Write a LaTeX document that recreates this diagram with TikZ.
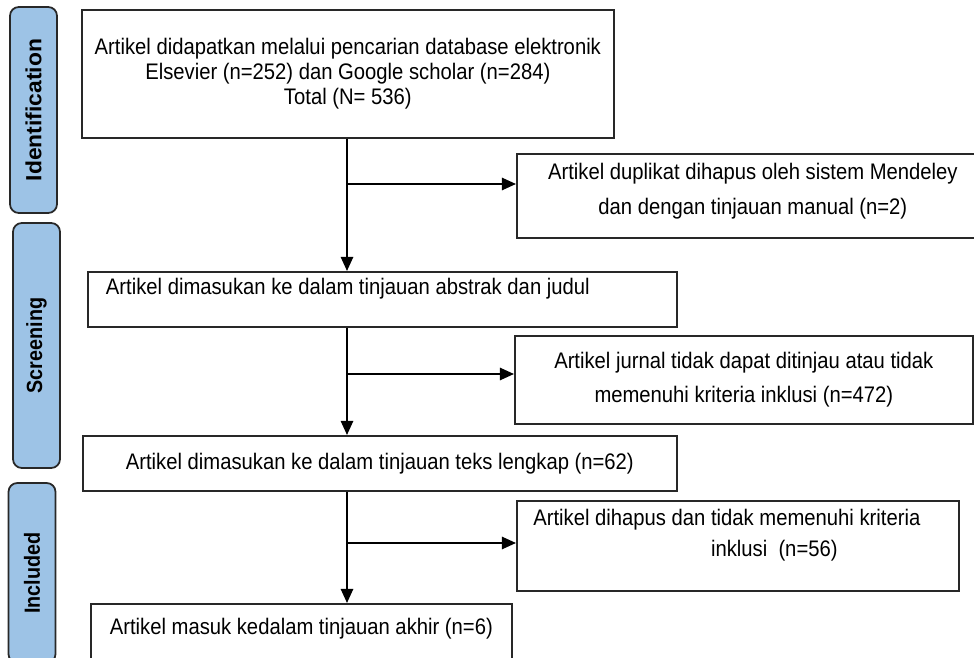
\documentclass[tikz,border=0pt]{standalone}
\usepackage{fontspec}
\setmainfont[FakeStretch=0.9]{Liberation Sans}
\newfontfamily\lebar[FakeStretch=1.04]{Liberation Sans}
\usetikzlibrary{arrows.meta}
\definecolor{biru}{RGB}{157,195,230}
\definecolor{garis}{RGB}{40,40,40}
\tikzset{
  tahap/.style={draw=garis,fill=biru,line width=1pt,rounded corners=5pt,rotate=90,
    inner sep=0pt,minimum height=0.94cm,font=\fontsize{12.5}{14}\selectfont\bfseries},
  kotak/.style={draw=garis,line width=1pt,inner sep=0pt,anchor=north west,
    align=center,font=\fontsize{12.8}{14.2}\selectfont},
  isi/.style={align=center,font=\fontsize{12.8}{14.2}\selectfont},
  isilebar/.style={align=center,font=\fontsize{12.8}{19.6}\selectfont},
  alur/.style={line width=1pt,-{Triangle[length=8pt,width=7pt]}},
}
\begin{document}
\begin{tikzpicture}[x=0.02cm,y=-0.02cm]
  \useasboundingbox (0,0) rectangle (974,658);
  \clip (0,0) rectangle (974,658);
  % tahapan di kiri
  \node[tahap,minimum width=4.12cm,font=\fontsize{12.5}{14}\lebar\bfseries]
    (ident) at (33.5,110) {Identification};
  \node[tahap,minimum width=4.9cm] (screen) at (36.5,345.5) {Screening};
  \node[tahap,minimum width=3.6cm] (incl) at (32,573) {Included};
  % kotak utama
  \node[kotak,minimum width=10.64cm,minimum height=2.56cm] (cari) at (81,9)
    {Artikel didapatkan melalui pencarian database elektronik\\
     Elsevier (n=252) dan Google scholar (n=284)\\ Total (N= 536)};
  \node[kotak,minimum width=11.78cm,minimum height=1.1cm,
    label={[isi,xshift=-0.69cm,yshift=0.21cm]center:Artikel dimasukan ke dalam tinjauan abstrak dan judul}]
    (abstrak) at (87,271) {};
  \node[kotak,minimum width=11.88cm,minimum height=1.1cm] (lengkap) at (82,435)
    {Artikel dimasukan ke dalam tinjauan teks lengkap (n=62)};
  \node[kotak,minimum width=8.42cm,minimum height=1.94cm,
    label={[isi,yshift=0.47cm]center:Artikel masuk kedalam tinjauan akhir (n=6)}]
    (akhir) at (90,603) {};
  % kotak keluar di kanan
  \node[kotak,minimum width=9.6cm,minimum height=1.68cm,
    label={[isilebar,xshift=-0.08cm,yshift=0.09cm]center:Artikel duplikat dihapus oleh sistem Mendeley\\
      dan dengan tinjauan manual (n=2)}]
    (duplikat) at (516,153) {};
  \node[kotak,isilebar,minimum width=9.16cm,minimum height=1.76cm] (jurnal) at (514,335)
    {Artikel jurnal tidak dapat ditinjau atau tidak\\ memenuhi kriteria inklusi (n=472)};
  \node[kotak,minimum width=8.84cm,minimum height=1.8cm,
    label={[isi,font=\fontsize{12.8}{17.5}\selectfont,xshift=-0.22cm,yshift=0.22cm]center:Artikel dihapus dan tidak memenuhi kriteria\\
      \hspace*{1.9cm}inklusi~~(n=56)}]
    (hapus) at (516,500) {};
  % titik cabang
  \coordinate (c1) at (347,184);
  \coordinate (c2) at (347,374);
  \coordinate (c3) at (347,543);
  % panah
  \draw[alur] (cari.south -| c1) -- (abstrak.north -| c1);
  \draw[alur] (c1) -- (c1 -| duplikat.west);
  \draw[alur] (abstrak.south -| c2) -- (lengkap.north -| c2);
  \draw[alur] (c2) -- (c2 -| jurnal.west);
  \draw[alur] (lengkap.south -| c3) -- (akhir.north -| c3);
  \draw[alur] (c3) -- (c3 -| hapus.west);
\end{tikzpicture}
\end{document}
